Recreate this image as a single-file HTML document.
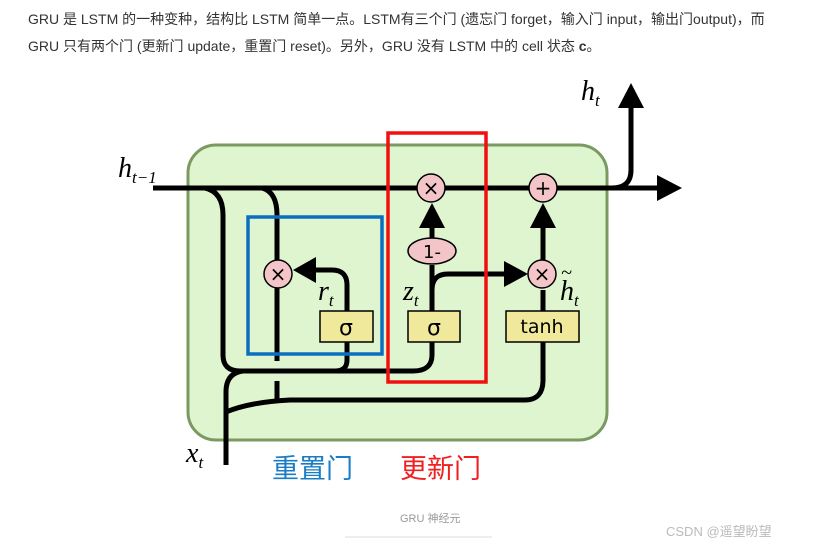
<!DOCTYPE html>
<html><head><meta charset="utf-8"><style>
body{margin:0;background:#fff;width:831px;height:547px;overflow:hidden;position:relative;font-family:"Liberation Sans","Noto Sans CJK SC",sans-serif;}
.t{position:absolute;left:28px;font-size:14px;color:#333;white-space:nowrap;}
</style></head><body>
<div class="t" style="top:9px">GRU 是 LSTM 的一种变种，结构比 LSTM 简单一点。LSTM有三个门 (遗忘门 forget，输入门 input，输出门output)，而</div>
<div class="t" style="top:36px">GRU 只有两个门 (更新门 update，重置门 reset)。另外，GRU 没有 LSTM 中的 cell 状态 <b>c</b>。</div>
<svg width="831" height="547" style="position:absolute;left:0;top:0">
<rect x="188" y="145" width="419" height="295" rx="28" fill="#dff5cf" stroke="#7a9a62" stroke-width="3"/>
<g fill="none" stroke="#000" stroke-width="5" stroke-linejoin="round">
<path d="M153 188 H612 Q631 188 631 170 V105"/>
<path d="M612 188 H662"/>
<path d="M205 188 Q223 192 223 215 V355 Q223 371 240 371 H413 Q432 371 432 355 V342"/>
<path d="M347 342 V360 Q347 371 335 371"/>
<path d="M262 188 Q277 192 277 215 V361"/>
<path d="M277 381 V400"/>
<path d="M226 465 V392 Q226 373 243 371"/>
<path d="M226 412 Q250 402 290 400 H525 Q543 400 543 380 V342"/>
<path d="M347 311 V285 Q347 270 332 270 H312"/>
<path d="M432 311 V265"/>
<path d="M432 290 Q432 274 448 274 H508"/>
<path d="M432 240 V222"/>
<path d="M543 311 V290"/>
<path d="M543 260 V222"/>
</g>
<g fill="#000">
<polygon points="631,83 618,108 644,108"/>
<polygon points="682,188 657,175 657,201"/>
<polygon points="293,270 316,257 316,283"/>
<polygon points="528,274 504,261 504,287"/>
<polygon points="432,203 419,228 445,228"/>
<polygon points="543,203 530,228 556,228"/>
</g>
<g fill="#f3c4c8" stroke="#000" stroke-width="1.5">
<circle cx="431" cy="188" r="14"/><circle cx="543" cy="188" r="14"/>
<circle cx="278" cy="274" r="14"/><circle cx="542" cy="274" r="14"/>
<ellipse cx="432" cy="251" rx="24" ry="13"/>
</g>
<g font-family="DejaVu Sans,sans-serif" font-size="20" text-anchor="middle">
<text x="431" y="195">×</text><text x="543" y="195">+</text>
<text x="278" y="281">×</text><text x="542" y="281">×</text>
<text x="432" y="258" font-size="18">1-</text>
</g>
<g fill="#f0e89a" stroke="#000" stroke-width="1.5">
<rect x="320" y="311" width="53" height="31"/><rect x="408" y="311" width="52" height="31"/><rect x="506" y="311" width="73" height="31"/>
</g>
<g font-family="DejaVu Sans,sans-serif" text-anchor="middle">
<text x="346" y="335" font-size="22">σ</text><text x="434" y="335" font-size="22">σ</text><text x="542" y="333" font-size="19">tanh</text>
</g>
<g font-family="Liberation Serif,serif" font-style="italic" font-size="28">
<text x="118" y="177">h<tspan font-size="17" dy="6">t−1</tspan></text>
<text x="581" y="100">h<tspan font-size="17" dy="6">t</tspan></text>
<text x="186" y="462">x<tspan font-size="17" dy="6">t</tspan></text>
<text x="318" y="300">r<tspan font-size="17" dy="6">t</tspan></text>
<text x="403" y="300">z<tspan font-size="17" dy="6">t</tspan></text>
<text x="560" y="300">h<tspan font-size="17" dy="6">t</tspan></text>
<text x="561" y="279" font-size="20">~</text>
</g>
<rect x="248" y="217" width="134" height="137" fill="none" stroke="#0a6fbf" stroke-width="3.5"/>
<rect x="388" y="133" width="98" height="249" fill="none" stroke="#f01010" stroke-width="3.5"/>
<text x="272" y="478" font-size="27" fill="#1a7cc4" font-family="Noto Sans CJK SC,sans-serif">重置门</text>
<text x="400" y="478" font-size="27" fill="#f02020" font-family="Noto Sans CJK SC,sans-serif">更新门</text>
<text x="400" y="522" font-size="11" fill="#999" font-family="Liberation Sans,Noto Sans CJK SC,sans-serif">GRU 神经元</text>
<line x1="345" y1="537" x2="492" y2="537" stroke="#ddd" stroke-width="1"/>
<text x="666" y="536" font-size="13" fill="#bbb" font-family="Liberation Sans,Noto Sans CJK SC,sans-serif">CSDN @遥望盼望</text>
</svg>
</body></html>
